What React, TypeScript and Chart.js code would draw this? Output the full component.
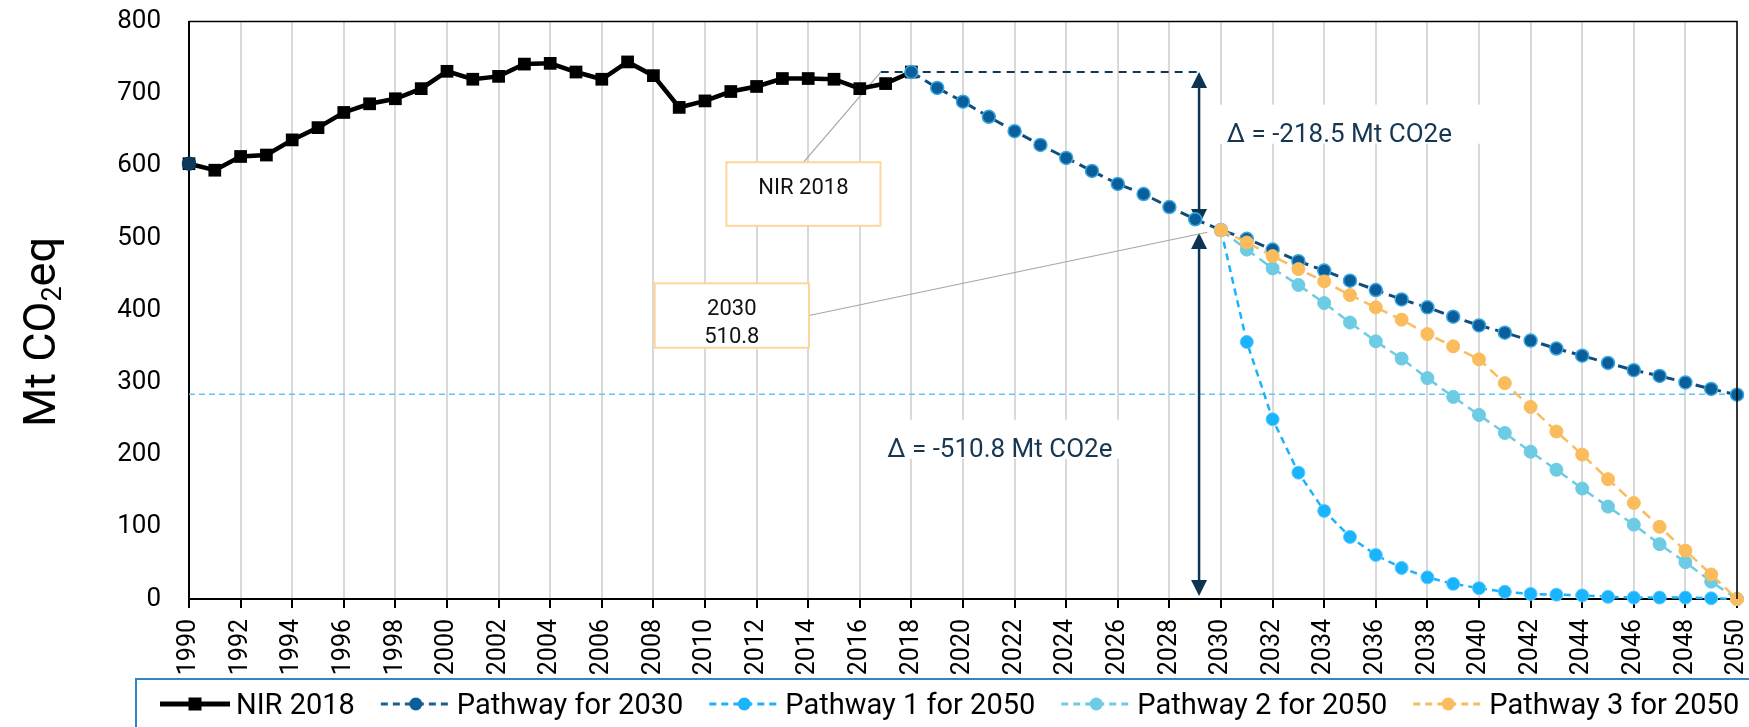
import React, { useEffect, useRef } from 'react';
import { Chart, registerables } from 'chart.js';

Chart.register(...registerables);

const FONT = 'Roboto, "Noto Sans", sans-serif';

// ---------- data ----------
const years = [
  1990, 1991, 1992, 1993, 1994, 1995, 1996, 1997, 1998, 1999,
  2000, 2001, 2002, 2003, 2004, 2005, 2006, 2007, 2008, 2009,
  2010, 2011, 2012, 2013, 2014, 2015, 2016, 2017, 2018, 2019,
  2020, 2021, 2022, 2023, 2024, 2025, 2026, 2027, 2028, 2029,
  2030, 2031, 2032, 2033, 2034, 2035, 2036, 2037, 2038, 2039,
  2040, 2041, 2042, 2043, 2044, 2045, 2046, 2047, 2048, 2049, 2050,
];

// NIR 2018 inventory, 1990-2018
const nirValues = [
  603, 594, 613, 615, 636, 653, 674, 686, 693, 707,
  731, 720, 724, 741, 742, 730, 720, 744, 725, 681,
  690, 703, 710, 721, 721, 720, 707, 714, 730,
];
// Pathway for 2030: 1990 base point, then 2018-2050
const pathway2030Base = 603;
const pathway2030Values = [
  730, 708, 689, 668, 648, 629, 611, 593, 575, 561, 543, 526, 511,
  499, 484, 468, 455, 441, 428, 415, 404, 391, 379, 369, 358, 347,
  337, 327, 317, 309, 300, 291, 283,
];
// 2030-2050 pathways
const pathway1Values = [511, 356, 249, 175, 122, 86, 61, 43, 30, 21, 15, 10, 7, 6, 5, 3, 2, 2, 2, 1, 0];
const pathway2Values = [511, 484, 458, 435, 410, 383, 357, 333, 306, 280, 255, 230, 204, 179, 153, 128, 103, 76, 51, 24, 0];
const pathway3Values = [511, 494, 475, 457, 440, 421, 404, 387, 367, 350, 332, 299, 266, 232, 200, 166, 133, 100, 67, 34, 0];

const yTicks = [0, 100, 200, 300, 400, 500, 600, 700, 800];

// annotations (data coordinates)
const refLevel2050 = 283.5;
const level2018 = 730;
const arrowYear = 2029.15;
const upperArrow = [730, 518];
const lowerArrow = [507, 4];
const nirBox = { x1: 2010.83, x2: 2016.8, top: 605, bottom: 517, lines: ['NIR 2018'] };
const nirLeaderEnd = { x: 2016.81, y: 730 };
const targetBox = { x1: 2008.05, x2: 2014.03, top: 437.3, bottom: 348.1, lines: ['2030', '510.8'] };
const targetLeaderEnd = { x: 2029.47, y: 508 };
const deltaLabels = [
  { text: 'Δ = -218.5 Mt CO2e', x: 2030.22, y: 633.5 },
  { text: 'Δ = -510.8 Mt CO2e', x: 2017.06, y: 197.1 },
];

const seriesFrom = (startYear: number, values: number[]) => {
  const s = years.indexOf(startYear);
  return values.map((v, i) => ({ x: years[s + i], y: v }));
};

const NAVY = '#163652';

function drawArrow(ctx: CanvasRenderingContext2D, x: number, yTop: number, yBot: number) {
  const hl = 16, hw = 8;
  ctx.strokeStyle = '#0d3553';
  ctx.fillStyle = '#0d3553';
  ctx.lineWidth = 2.5;
  ctx.setLineDash([]);
  ctx.beginPath();
  ctx.moveTo(x, yTop + hl - 1);
  ctx.lineTo(x, yBot - hl + 1);
  ctx.stroke();
  ctx.beginPath();
  ctx.moveTo(x, yTop);
  ctx.lineTo(x - hw, yTop + hl);
  ctx.lineTo(x + hw, yTop + hl);
  ctx.closePath();
  ctx.fill();
  ctx.beginPath();
  ctx.moveTo(x, yBot);
  ctx.lineTo(x - hw, yBot - hl);
  ctx.lineTo(x + hw, yBot - hl);
  ctx.closePath();
  ctx.fill();
}

function drawBox(ctx: CanvasRenderingContext2D, sx: any, sy: any, b: any) {
  const l = sx.getPixelForValue(b.x1);
  const r = sx.getPixelForValue(b.x2);
  const t = sy.getPixelForValue(b.top);
  const bt = sy.getPixelForValue(b.bottom);
  ctx.fillStyle = '#fff';
  ctx.fillRect(l, t, r - l, bt - t);
  ctx.strokeStyle = '#fdd699';
  ctx.lineWidth = 2;
  ctx.setLineDash([]);
  ctx.strokeRect(l, t, r - l, bt - t);
  ctx.fillStyle = '#111';
  ctx.font = `22px ${FONT}`;
  ctx.textAlign = 'center';
  ctx.textBaseline = 'middle';
  b.lines.forEach((s: string, i: number) => {
    ctx.fillText(s, (l + r) / 2, t + 26 + i * 28);
  });
}

const decorPlugin = {
  id: 'decor',
  beforeDatasetsDraw(chart: any) {
    const { ctx, chartArea: a, scales } = chart;
    const sx = scales.x, sy = scales.y;
    ctx.save();
    // 2050 reference level
    const yr = sy.getPixelForValue(refLevel2050);
    ctx.strokeStyle = '#5ec8f2';
    ctx.lineWidth = 1.5;
    ctx.setLineDash([6, 4]);
    ctx.beginPath();
    ctx.moveTo(a.left, yr);
    ctx.lineTo(a.right, yr);
    ctx.stroke();

    // delta labels with white background
    ctx.font = `26px ${FONT}`;
    deltaLabels.forEach((d) => {
      const x = sx.getPixelForValue(d.x);
      const y = sy.getPixelForValue(d.y);
      ctx.fillStyle = '#fff';
      ctx.fillRect(x - 9, y - 37, 270, 39);
      ctx.fillStyle = NAVY;
      ctx.textAlign = 'left';
      ctx.textBaseline = 'alphabetic';
      ctx.fillText(d.text, x, y);
    });

    // dashed 2018 level line
    const xa = sx.getPixelForValue(arrowYear);
    const y18 = sy.getPixelForValue(level2018);
    ctx.strokeStyle = '#0d3a5c';
    ctx.lineWidth = 2;
    ctx.setLineDash([8, 6]);
    ctx.beginPath();
    ctx.moveTo(sx.getPixelForValue(nirLeaderEnd.x), y18);
    ctx.lineTo(xa, y18);
    ctx.stroke();

    // arrows
    drawArrow(ctx, xa, sy.getPixelForValue(upperArrow[0]), sy.getPixelForValue(upperArrow[1]));
    drawArrow(ctx, xa, sy.getPixelForValue(lowerArrow[0]), sy.getPixelForValue(lowerArrow[1]));

    // leader lines
    ctx.strokeStyle = '#a6a6a6';
    ctx.lineWidth = 1.2;
    ctx.setLineDash([]);
    const nbl = sx.getPixelForValue(nirBox.x1), nbr = sx.getPixelForValue(nirBox.x2), nbt = sy.getPixelForValue(nirBox.top);
    ctx.beginPath();
    ctx.moveTo((nbl + nbr) / 2, nbt);
    ctx.lineTo(sx.getPixelForValue(nirLeaderEnd.x), sy.getPixelForValue(nirLeaderEnd.y));
    ctx.stroke();
    const tbr = sx.getPixelForValue(targetBox.x2);
    const tbt = sy.getPixelForValue(targetBox.top);
    const tbb = sy.getPixelForValue(targetBox.bottom);
    ctx.beginPath();
    ctx.moveTo(tbr, (tbt + tbb) / 2);
    ctx.lineTo(sx.getPixelForValue(targetLeaderEnd.x), sy.getPixelForValue(targetLeaderEnd.y));
    ctx.stroke();

    drawBox(ctx, sx, sy, nirBox);
    drawBox(ctx, sx, sy, targetBox);
    ctx.restore();
  },
  afterDraw(chart: any) {
    const { ctx, chartArea: a } = chart;
    ctx.save();
    // top & right frame
    ctx.strokeStyle = '#000';
    ctx.lineWidth = 1.5;
    ctx.setLineDash([]);
    ctx.beginPath();
    ctx.moveTo(a.left, a.top);
    ctx.lineTo(a.right, a.top);
    ctx.lineTo(a.right, a.bottom);
    ctx.stroke();

    // y title: Mt CO2eq with subscript
    ctx.translate(33, 332);
    ctx.rotate(-Math.PI / 2);
    ctx.fillStyle = '#000';
    ctx.textAlign = 'left';
    ctx.textBaseline = 'alphabetic';
    const big = `45px ${FONT}`, small = `27px ${FONT}`;
    ctx.font = big;
    const w1 = ctx.measureText('Mt CO').width;
    const w3 = ctx.measureText('eq').width;
    ctx.font = small;
    const w2 = ctx.measureText('2').width;
    const x0 = -(w1 + w2 + w3) / 2;
    ctx.font = big;
    ctx.fillText('Mt CO', x0, 22);
    ctx.font = small;
    ctx.fillText('2', x0 + w1, 28);
    ctx.font = big;
    ctx.fillText('eq', x0 + w1 + w2, 22);
    ctx.setTransform(1, 0, 0, 1, 0, 0);

    // legend
    ctx.strokeStyle = '#2e86c8';
    ctx.lineWidth = 2;
    ctx.strokeRect(136, 679, 1700, 100);
    ctx.font = `29px ${FONT}`;
    let lx = 160;
    const ly = 704;
    chart.data.datasets.forEach((ds: any) => {
      if (!ds.legend) return;
      const L = ds.legend;
      ctx.strokeStyle = L.line;
      ctx.lineWidth = L.width;
      ctx.setLineDash(L.dash);
      ctx.beginPath();
      ctx.moveTo(lx, ly);
      ctx.lineTo(lx + 70, ly);
      ctx.stroke();
      ctx.setLineDash([]);
      ctx.fillStyle = L.marker;
      if (L.rect) {
        ctx.fillRect(lx + 35 - 6.5, ly - 6.5, 13, 13);
      } else {
        ctx.beginPath();
        ctx.arc(lx + 35, ly, 6.5, 0, Math.PI * 2);
        ctx.fill();
      }
      ctx.fillStyle = '#000';
      ctx.textAlign = 'left';
      ctx.textBaseline = 'alphabetic';
      ctx.fillText(ds.label, lx + 76, ly + 10);
      lx += 76 + ctx.measureText(ds.label).width + 26;
    });
    ctx.restore();
  },
};

export default function App() {
  const ref = useRef<HTMLCanvasElement>(null);
  useEffect(() => {
    document.body.style.margin = '0';
    const p2030Data: any[] = [{ x: years[0], y: pathway2030Base }, { x: years[1], y: null }, ...seriesFrom(2018, pathway2030Values)];
    const chart = new Chart(ref.current as HTMLCanvasElement, {
      type: 'line',
      data: {
        datasets: [
          {
            label: 'NIR 2018',
            data: seriesFrom(1990, nirValues),
            borderColor: '#000',
            backgroundColor: '#000',
            borderWidth: 4.5,
            pointStyle: 'rect',
            pointRadius: 9,
            pointBackgroundColor: '#000',
            pointBorderColor: '#000',
            pointBorderWidth: 0,
            order: 5,
            clip: false,
            legend: { line: '#000', width: 5, dash: [], marker: '#000', rect: true },
          } as any,
          {
            label: 'Pathway for 2030',
            data: p2030Data,
            borderColor: '#0f4e7c',
            borderWidth: 3,
            borderDash: [10, 6],
            pointRadius: 6.5,
            pointBackgroundColor: (c: any) => (c.dataIndex === 0 ? '#0b3a5c' : '#0a5e99'),
            pointBorderColor: (c: any) => (c.dataIndex === 0 ? '#0b3a5c' : '#3aa8e0'),
            pointBorderWidth: 1.5,
            order: 4,
            clip: false,
            legend: { line: '#1f5f8f', width: 3, dash: [7, 5], marker: '#0a5e99' },
          } as any,
          {
            label: 'Pathway 1 for 2050',
            data: seriesFrom(2030, pathway1Values),
            borderColor: '#1ab4fc',
            borderWidth: 2.5,
            borderDash: [7, 5],
            pointRadius: 6.5,
            pointBackgroundColor: '#1ab4fc',
            pointBorderColor: '#5ccbff',
            pointBorderWidth: 1,
            order: 3,
            clip: false,
            legend: { line: '#1ab4fc', width: 3, dash: [7, 5], marker: '#1ab4fc' },
          } as any,
          {
            label: 'Pathway 2 for 2050',
            data: seriesFrom(2030, pathway2Values),
            borderColor: '#6dcbe4',
            borderWidth: 2.5,
            borderDash: [10, 6],
            pointRadius: 6.5,
            pointBackgroundColor: '#6dcbe4',
            pointBorderColor: '#6dcbe4',
            pointBorderWidth: 1,
            order: 2,
            clip: false,
            legend: { line: '#6dcbe4', width: 3, dash: [7, 5], marker: '#6dcbe4' },
          } as any,
          {
            label: 'Pathway 3 for 2050',
            data: seriesFrom(2030, pathway3Values),
            borderColor: '#fbbc5d',
            borderWidth: 2.5,
            borderDash: [10, 6],
            pointRadius: 6.5,
            pointBackgroundColor: '#fbbc5d',
            pointBorderColor: '#fbbc5d',
            pointBorderWidth: 1,
            order: 1,
            clip: false,
            legend: { line: '#fbbc5d', width: 3, dash: [7, 5], marker: '#fbbc5d' },
          } as any,
        ],
      },
      options: {
        responsive: false,
        maintainAspectRatio: false,
        animation: false,
        layout: { padding: { left: 117, top: 21.5, right: 12, bottom: 0 } },
        plugins: { legend: { display: false }, tooltip: { enabled: false } },
        elements: { line: { tension: 0 } },
        scales: {
          x: {
            type: 'linear',
            min: years[0],
            max: years[years.length - 1],
            afterFit: (s: any) => { s.height = 128; s.paddingLeft = 0; s.paddingRight = 0; },
            ticks: {
              stepSize: 2,
              autoSkip: false,
              minRotation: 90,
              maxRotation: 90,
              padding: 11,
              color: '#000',
              font: { family: FONT, size: 25 },
              callback: (v: any) => String(v),
            },
            grid: { color: '#d9d9d9', lineWidth: 2, tickLength: 9, tickColor: '#000', tickWidth: 2 },
            border: { color: '#000', width: 2 },
          },
          y: {
            min: yTicks[0],
            max: yTicks[yTicks.length - 1],
            afterFit: (s: any) => { s.width = 72; s.paddingTop = 0; s.paddingBottom = 0; },
            ticks: {
              stepSize: yTicks[1] - yTicks[0],
              padding: 28,
              color: '#000',
              font: { family: FONT, size: 26 },
            },
            grid: { display: false, drawTicks: false },
            border: { color: '#000', width: 2 },
          },
        },
      } as any,
      plugins: [decorPlugin],
    });
    return () => chart.destroy();
  }, []);
  return (
    <div style={{ width: 1749, height: 727 }}>
      <canvas ref={ref} width={1749} height={727} style={{ display: 'block', width: 1749, height: 727 }} />
    </div>
  );
}
